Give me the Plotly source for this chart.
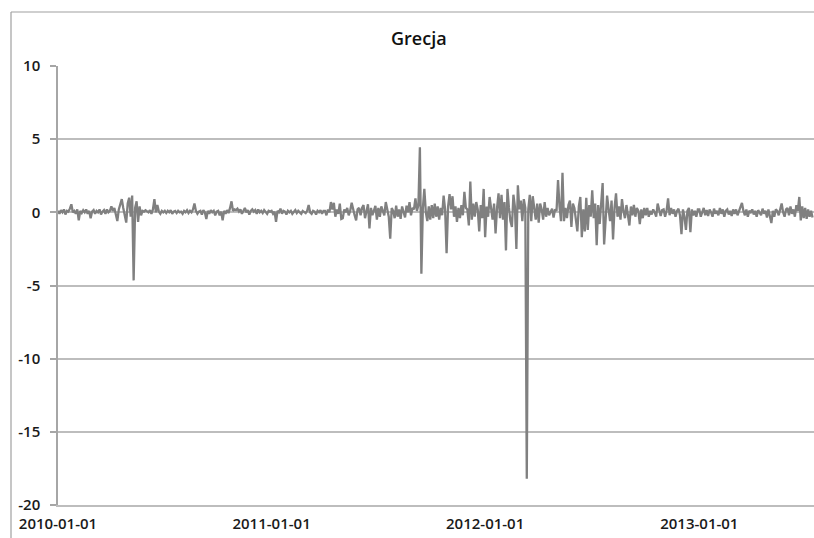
import pandas as pd
import plotly.graph_objects as go

title = "Grecja"
tick_dates = ["2010-01-01", "2011-01-01", "2012-01-01", "2013-01-01"]
y_ticks = [10, 5, 0, -5, -10, -15, -20]
y_tick_text = ["10", "5", "0", "-5", "-10", "-15", "-20"]

# values, 12 per month (month rows)
vals_2010 = [
    0.1, -0.1, 0.15, 0.0, 0.2, -0.15, 0.1, 0.05, 0.25, 0.55, 0.0, 0.1,
    -0.1, 0.2, -0.55, 0.1, -0.05, 0.15, 0.0, 0.2, -0.1, 0.1, -0.4, 0.05,
    0.15, -0.1, 0.1, 0.0, 0.2, -0.15, 0.05, 0.15, -0.1, 0.2, 0.0, 0.1,
    0.4, 0.1, 0.3, -0.2, -0.6, 0.2, 0.5, 0.9, 0.3, -0.3, -0.7, 0.6,
    1.0, -0.3, 1.15, -4.65, 0.3, 0.75, -0.65, 0.4, -0.2, 0.1, 0.05, 0.15,
    0.1, 0.0, 0.15, -0.1, 0.2, 0.9, 0.0, 0.5, 0.05, -0.1, 0.1, 0.0,
    0.1, -0.05, 0.1, 0.0, 0.15, -0.1, 0.05, 0.1, -0.05, 0.1, 0.0, 0.05,
    -0.1, 0.1, 0.0, 0.15, -0.05, 0.1, 0.0, 0.2, 0.6, 0.1, -0.1, 0.05,
    0.1, -0.15, 0.15, 0.0, -0.45, 0.1, -0.1, 0.15, 0.0, 0.1, -0.2, 0.05,
    0.1, -0.2, 0.05, -0.55, 0.1, -0.1, 0.15, -0.05, 0.3, 0.75, 0.1, 0.2,
    0.15, 0.25, 0.05, 0.2, -0.1, 0.15, 0.3, 0.0, 0.15, -0.15, 0.1, 0.2,
    0.05, 0.15, -0.1, 0.2, 0.0, 0.1, -0.05, 0.15, 0.05, -0.1, 0.1, 0.05,
]
vals_2011 = [
    0.1, -0.1, 0.05, -0.65, 0.1, 0.0, 0.25, -0.1, 0.1, 0.05, -0.15, 0.1,
    0.0, 0.1, -0.1, 0.05, 0.15, -0.05, 0.1, 0.0, -0.1, 0.1, 0.05, -0.05,
    0.1, 0.5, 0.0, -0.1, 0.1, 0.05, -0.15, 0.1, 0.0, 0.15, -0.1, 0.1,
    0.1, -0.2, 0.2, 0.0, 0.7, 0.2, 0.65, -0.3, 0.2, -0.1, 0.6, -0.45,
    -0.4, 0.2, 0.0, 0.3, -0.2, 0.1, 0.65, 0.1, -0.2, -0.55, 0.2, 0.3,
    -0.2, 0.3, 0.5, -0.4, 0.2, 0.55, -1.1, 0.3, -0.2, 0.1, 0.45, -0.5,
    0.3, -0.3, 0.4, 0.1, -0.2, 0.7, 0.2, -0.3, -1.8, 0.3, 0.1, -0.4,
    0.45, -0.3, 0.2, -0.45, 0.4, 0.1, -0.35, 0.45, 0.0, 0.7, -0.2, 0.3,
    0.2, 0.95, 0.1, 0.5, 4.45, -4.2, 0.3, 1.6, 0.0, -0.6, 0.4, -0.5,
    0.5, -0.4, 0.6, -0.3, 0.4, -0.5, 0.3, -0.2, 1.15, 0.2, -2.8, 0.4,
    1.25, 0.2, 1.1, -0.3, 0.4, -0.65, 0.3, -0.4, 0.5, -0.2, 1.4, 0.3,
    0.2, -0.9, 2.1, -0.5, 0.6, -0.3, 0.7, 0.2, -1.3, 0.5, -0.4, 1.6,
]
vals_2012 = [
    -1.7, 0.4, -0.3, 1.05, 0.2, -0.5, 0.6, -1.45, 0.3, 1.3, -0.4, 1.2,
    -0.5, 0.7, -2.6, 1.6, 0.3, -0.6, -1.0, 1.2, 0.4, -2.5, 1.85, 0.2,
    0.8, -0.6, 0.9, 0.3, -18.2, 0.2, 1.2, -0.6, 1.1, 0.3, -0.5, 0.6,
    -0.7, 0.6, 0.2, -0.5, 0.7, -0.3, 0.3, -0.2, 0.1, 0.25, -0.35, 0.2,
    0.1, 2.2, 0.4, -0.6, 2.7, -0.6, 0.3, -0.4, 0.5, 0.8, -1.0, 0.6,
    0.3, -0.5, -1.3, 0.4, 1.05, -1.7, 0.2, -1.3, 1.0, -1.2, 0.5, -0.3,
    1.5, -0.4, 0.6, -2.25, 0.5, -0.8, 0.9, 2.0, -2.2, -0.5, 1.15, 0.2,
    -0.6, 0.8, -1.85, 0.3, 1.3, -0.3, 0.4, -0.5, 0.9, 0.1, -0.4, 0.5,
    -0.3, -0.9, 0.4, -0.2, 0.5, -0.3, 0.3, 0.1, -0.8, 0.2, -0.4, 0.3,
    -0.2, 0.3, -0.3, 0.1, -0.15, 0.2, 0.0, -0.3, 0.6, 0.1, -0.25, 0.15,
    0.2, -0.3, 0.1, 0.95, -0.2, 0.3, -0.1, 0.2, -0.3, 0.1, 0.25, -0.2,
    -1.5, 0.2, -0.3, -1.2, 0.1, 0.3, -1.35, 0.2, -0.2, 0.1, -0.3, 0.2,
]
vals_2013 = [
    0.2, -0.3, 0.1, 0.3, -0.2, 0.15, -0.25, 0.2, 0.0, -0.3, 0.25, -0.1,
    0.1, -0.2, 0.3, -0.1, 0.2, -0.3, 0.1, 0.2, -0.15, 0.1, -0.25, 0.2,
    -0.1, 0.2, -0.2, 0.1, 0.3, 0.64, 0.1, -0.2, 0.2, -0.3, 0.1, 0.0,
    0.2, -0.15, 0.1, -0.3, 0.15, 0.0, -0.2, 0.25, -0.1, 0.1, -0.35, 0.2,
    -0.2, -0.73, 0.1, -0.3, 0.2, 0.1, -0.2, 0.3, 0.6, 0.0, -0.3, 0.2,
    0.3, -0.2, 0.4, -0.1, 0.2, -0.3, 0.5, 0.1, 1.05, -0.55, 0.4, -0.4,
    0.3, -0.45, 0.2, -0.3, 0.1, -0.35,
]

periods = [
    ("2010-01-01", "2011-01-01", vals_2010),
    ("2011-01-01", "2012-01-01", vals_2011),
    ("2012-01-01", "2013-01-01", vals_2012),
    ("2013-01-01", "2013-07-16", vals_2013),
]
xs, ys = [], []
for start, end, vals in periods:
    d = pd.date_range(start, end, periods=len(vals) + 1)[:-1]
    xs.extend(d)
    ys.extend(vals)

fig = go.Figure()
fig.add_trace(go.Scatter(x=xs, y=ys, mode="lines",
                         line=dict(color="#808080", width=2.3),
                         hoverinfo="skip", showlegend=False))

W, H = 814, 538
L, T, R = 58, 66, 0
B = H - T - 439
pw, ph = W - L - R, H - T - B

def px_x(p):
    return (p - L) / pw

def px_y(p):
    return (H - B - p) / ph

tick_font = dict(family="Open Sans, Liberation Sans, sans-serif", size=15,
                 color="#1a1a1a", weight=600)
border = dict(color="#a0a0a0", width=1.2)

fig.update_layout(
    width=W, height=H,
    margin=dict(l=L, r=R, t=T, b=B, autoexpand=False),
    paper_bgcolor="white", plot_bgcolor="white",
    showlegend=False,
    xaxis=dict(type="date", range=["2010-01-01", "2013-07-16"],
               tickvals=tick_dates, ticktext=tick_dates,
               showgrid=False, zeroline=False,
               showline=True, linecolor="#bdbdbd", linewidth=1.5,
               ticks="", tickfont=tick_font, ticklabelstandoff=4,
               fixedrange=True),
    yaxis=dict(range=[-20, 10], tickvals=y_ticks, ticktext=y_tick_text,
               showgrid=True, gridcolor="#bdbdbd", gridwidth=1.5,
               zeroline=False, showline=True, linecolor="#a6a6a6", linewidth=1.5,
               ticks="outside", ticklen=6, tickcolor="#a6a6a6", tickwidth=1.5,
               tickfont=tick_font, ticklabelstandoff=7, fixedrange=True),
    shapes=[
        dict(type="line", xref="paper", yref="paper",
             x0=px_x(11), x1=1.05, y0=px_y(12), y1=px_y(12), line=border),
        dict(type="line", xref="paper", yref="paper",
             x0=px_x(11), x1=px_x(11), y0=px_y(12), y1=-0.2, line=border),
    ],
    annotations=[dict(text=title, xref="paper", yref="paper",
                      x=px_x(419), y=px_y(38), xanchor="center", yanchor="middle",
                      showarrow=False,
                      font=dict(family="Open Sans, Liberation Sans, sans-serif", size=18,
                                color="#111111", weight=600))],
)

fig.write_html(
    "out.html",
    config={"displayModeBar": False},
    post_script="document.body.style.margin='0';document.body.style.overflow='hidden';",
)
